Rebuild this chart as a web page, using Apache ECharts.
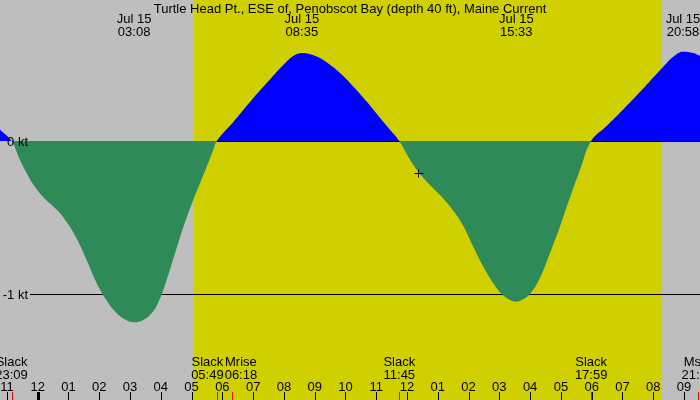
<!DOCTYPE html>
<html><head><meta charset="utf-8">
<script src="https://cdn.jsdelivr.net/npm/echarts@6/dist/echarts.min.js"></script>
<style>html,body{margin:0;padding:0;background:#bebebe}#c{width:700px;height:400px}</style>
</head><body><div id="c"></div>
<script>
// ---- data (hours since Jul 15 00:00, current in knots) ----
const chartTitle = 'Turtle Head Pt., ESE of, Penobscot Bay (depth 40 ft), Maine Current';
const dayLabel = 'Jul 15';
const viewStartHour = -1.225, viewEndHour = 21.52;
const knotsTop = 0.9216, knotsBottom = -1.6928;

const currentHours = [-1.5, -1.225, -0.85, -0.575, -0.357, -0.143, 0.182, 0.507, 0.725, 0.942, 1.157, 1.374, 1.592, 1.806, 2.024, 2.242, 2.456, 2.781, 3.133, 3.431, 3.756, 3.973, 4.191, 4.406, 4.623, 4.841, 5.055, 5.273, 5.491, 5.705, 5.817,
  6.355, 6.897, 7.440, 7.979, 8.304, 8.587, 9.064, 9.389, 9.822, 10.253, 10.689, 11.121, 11.446, 11.75,
  12.040, 12.365, 12.745, 13.178, 13.502, 13.827, 14.152, 14.477, 14.802, 15.075, 15.345, 15.55, 15.767, 15.994, 16.319, 16.644, 16.969, 17.294, 17.619, 17.983,
  18.486, 19.025, 19.568, 20.000, 20.325, 20.650, 20.967, 21.300, 21.518, 21.75];
const currentKnots = [0.15, 0.075, 0, -0.124, -0.211, -0.285, -0.368, -0.428, -0.472, -0.530, -0.598, -0.682, -0.780, -0.880, -0.970, -1.043, -1.102, -1.160, -1.185, -1.170, -1.112, -1.030, -0.908, -0.770, -0.630, -0.500, -0.386, -0.276, -0.168, -0.059, 0,
  0.124, 0.255, 0.379, 0.497, 0.556, 0.575, 0.553, 0.515, 0.445, 0.357, 0.258, 0.152, 0.074, 0,
  -0.103, -0.201, -0.288, -0.375, -0.455, -0.555, -0.691, -0.821, -0.930, -1.000, -1.039, -1.050, -1.035, -1.000, -0.895, -0.734, -0.560, -0.370, -0.190, 0,
  0.098, 0.206, 0.320, 0.415, 0.486, 0.551, 0.584, 0.575, 0.557, 0.53];

const maxHours = [3.133, 8.583, 15.55, 20.967];
const maxTimes = ['03:08', '08:35', '15:33', '20:58'];

const eventHours = [-0.85, 5.817, 6.3, 11.75, 17.983, 21.45];
const eventNames = ['Slack', 'Slack', 'Mrise', 'Slack', 'Slack', 'Mset'];
const eventTimes = ['23:09', '05:49', '06:18', '11:45', '17:59', '21:27'];

const tickHours = [-1, 0, 1, 2, 3, 4, 5, 6, 7, 8, 9, 10, 11, 12, 13, 14, 15, 16, 17, 18, 19, 20, 21];
const tickLabels = ['11', '12', '01', '02', '03', '04', '05', '06', '07', '08', '09', '10', '11', '12', '01', '02', '03', '04', '05', '06', '07', '08', '09'];

const sunriseHour = 5.078, sunsetHour = 20.283;
const levelKnots = [0, -1];
const levelLabels = ['0 kt', '-1 kt'];
const markHour = 12.36, markKnots = -0.209;

// ---- styling ----
const FONT = '"Liberation Sans", Arial, sans-serif';
const FS = 13;
const FLOOD = '#0000ff', EBB = '#2e8b57';
const measureCtx = document.createElement('canvas').getContext('2d');
measureCtx.font = FS + 'px "Liberation Sans"';
const tw = t => measureCtx.measureText(t).width;

function txt(text, x, y, align) {
  return { type: 'text', style: { text, x, y, align: align || 'center', verticalAlign: 'middle', fill: '#000', fontSize: FS, fontFamily: FONT, lineHeight: 12.7 } };
}

const chart = echarts.init(document.getElementById('c'), null, { renderer: 'canvas' });
chart.setOption({
  animation: false,
  backgroundColor: '#bebebe',
  grid: { left: 0, right: 0, top: 0, bottom: 0 },
  xAxis: { type: 'value', min: viewStartHour, max: viewEndHour, show: false },
  yAxis: { type: 'value', min: knotsBottom, max: knotsTop, show: false },
  graphic: [{ type: 'text', left: 'center', top: 3, z: 100, style: { text: chartTitle, fill: '#000', fontSize: FS, fontFamily: FONT } }],
  series: [
    { // daylight band
      type: 'custom', z: 0, silent: true,
      data: [[sunriseHour, sunsetHour]],
      renderItem: function (params, api) {
        const a = api.coord([api.value(0), knotsTop]);
        const b = api.coord([api.value(1), knotsBottom]);
        const x0 = Math.round(a[0]), x1 = Math.round(b[0]);
        return { type: 'rect', shape: { x: x0, y: a[1], width: x1 - x0, height: b[1] - a[1] }, style: { fill: '#d0d000' } };
      }
    },
    { // level lines
      type: 'custom', z: 1, silent: true,
      data: levelKnots.map((k, i) => [viewStartHour, k, i]),
      renderItem: function (params, api) {
        const cs = params.coordSys;
        const y = Math.round(api.coord([0, api.value(1)])[1]) + 0.5;
        return { type: 'line', shape: { x1: cs.x + 30, y1: y, x2: cs.x + cs.width, y2: y }, style: { stroke: '#000', lineWidth: 1 } };
      }
    },
    { // current (flood above zero, ebb below)
      id: 'current', type: 'line', z: 2, silent: true, smooth: 0.4, symbol: 'none',
      data: currentHours.map((h, i) => [h, currentKnots[i]]),
      lineStyle: { width: 0 }, areaStyle: { opacity: 1, color: EBB }
    },
    { // level labels
      type: 'custom', z: 3, silent: true,
      data: levelKnots.map((k, i) => [viewStartHour, k, i]),
      renderItem: function (params, api) {
        const cs = params.coordSys;
        const y = api.coord([0, api.value(1)])[1];
        return txt(levelLabels[api.value(2)], cs.x + 28, y + 1, 'right');
      }
    },
    { // max/min labels at top
      type: 'custom', z: 3, silent: true,
      data: maxHours.map((h, i) => [h, 0, i]),
      renderItem: function (params, api) {
        const cs = params.coordSys;
        const x = api.coord([api.value(0), 0])[0];
        return txt(dayLabel + '\n' + maxTimes[api.value(2)], x, cs.y + 26);
      }
    },
    { // hour ticks
      type: 'custom', z: 3, silent: true,
      data: tickHours.map((h, i) => [h, 0, i]),
      renderItem: function (params, api) {
        const cs = params.coordSys;
        const bottom = cs.y + cs.height;
        const h = api.value(0);
        const xr = api.coord([h, 0])[0];
        const midnight = ((h % 24) + 24) % 24 === 0;
        const x = Math.round(xr) + 0.5;
        return { type: 'group', children: [
          { type: 'line', shape: { x1: x, y1: bottom - 8, x2: x, y2: bottom }, style: { stroke: '#000', lineWidth: midnight ? 3 : 1 } },
          txt(tickLabels[api.value(2)], xr, bottom - 12.8)
        ] };
      }
    },
    { // events (slack, moon)
      type: 'custom', z: 3, silent: true,
      data: eventHours.map((h, i) => [h, 0, i]),
      renderItem: function (params, api) {
        const cs = params.coordSys;
        const bottom = cs.y + cs.height;
        const xs = eventHours.map(h => api.coord([h, 0])[0]);
        const ws = eventNames.map((n, i) => Math.max(tw(n), tw(eventTimes[i])));
        const cx = xs.slice();
        for (let it = 0; it < 10; it++) {
          for (let i = 0; i < cx.length - 1; i++) {
            const need = (ws[i] + ws[i + 1]) / 2 + 1;
            const d = cx[i + 1] - cx[i];
            if (d < need) { const s = (need - d) / 2; cx[i] -= s; cx[i + 1] += s; }
          }
        }
        const i = api.value(2);
        const x = Math.round(xs[i]) + 0.5;
        return { type: 'group', children: [
          { type: 'line', shape: { x1: x, y1: bottom - 8, x2: x, y2: bottom }, style: { stroke: '#ff0000', lineWidth: 1 } },
          txt(eventNames[i] + '\n' + eventTimes[i], cx[i], bottom - 30.9)
        ] };
      }
    },
    { // cross mark
      type: 'custom', z: 3, silent: true,
      data: [[markHour, markKnots]],
      renderItem: function (params, api) {
        const p = api.coord([api.value(0), api.value(1)]);
        const x = Math.round(p[0]) + 0.5, y = Math.round(p[1]) + 0.5;
        return { type: 'group', children: [
          { type: 'line', shape: { x1: x - 4, y1: y, x2: x + 5, y2: y }, style: { stroke: '#000', lineWidth: 1 } },
          { type: 'line', shape: { x1: x, y1: y - 4, x2: x, y2: y + 4 }, style: { stroke: '#000', lineWidth: 1 } }
        ] };
      }
    }
  ]
});

// split the fill colour at the zero-knot level (pixel position taken from the y axis)
const zeroY = chart.convertToPixel({ yAxisIndex: 0 }, 0);
const H = chart.getHeight();
const f = zeroY / H;
chart.setOption({
  series: [{ id: 'current', areaStyle: { opacity: 1, color: new echarts.graphic.LinearGradient(0, 0, 0, H, [
    { offset: 0, color: FLOOD }, { offset: f, color: FLOOD }, { offset: f, color: EBB }, { offset: 1, color: EBB }
  ], true) } }]
});
</script></body></html>
